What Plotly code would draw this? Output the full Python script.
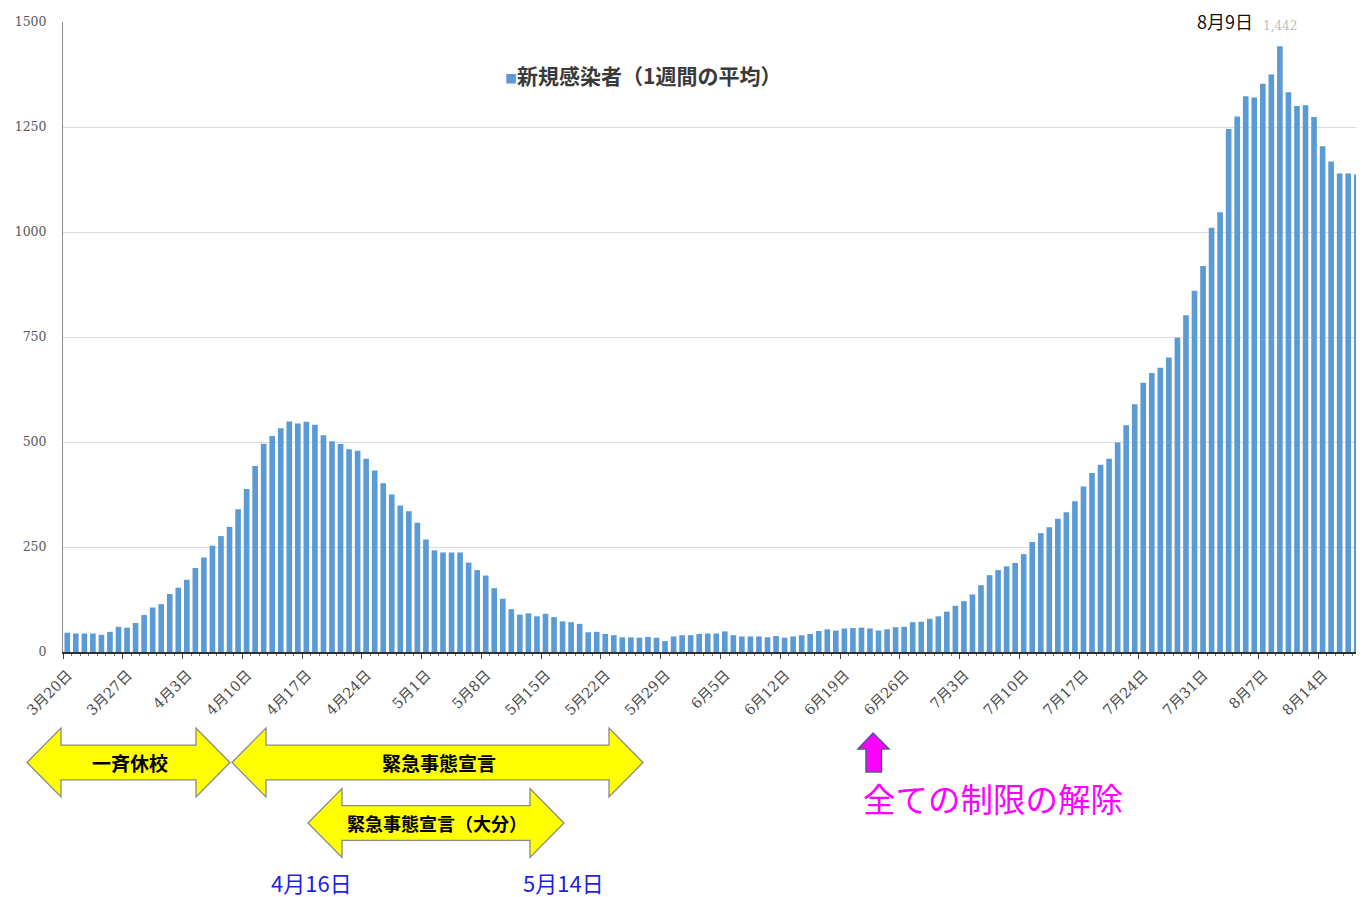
import datetime as dt
import plotly.graph_objects as go

# ---------------- data ----------------
start_date = dt.date(2020, 3, 20)
n_days = 153
categories = []
for d in range(n_days):
    day = start_date + dt.timedelta(days=d)
    categories.append(f"{day.month}月{day.day}日")

# 7-day average of new infections
weekly_avg = [
    46, 44, 44, 44, 41, 48, 60, 58, 69, 88, 106, 114, 138, 153, 172, 200, 225, 253, 276, 298,
    340, 388, 443, 496, 514, 533, 549, 544, 548, 541, 516, 502, 495, 483, 479, 460, 432, 402,
    375, 349, 335, 308, 268, 242, 237, 237, 237,
    213, 195, 182, 152, 127, 102, 89, 92, 85, 91, 83, 73, 71, 67, 47, 48, 43, 40, 35, 35, 34,
    36, 34, 26, 37, 40, 40, 43, 44, 44, 49, 40, 37, 37, 37, 35, 38, 34, 37, 40, 43, 50, 54,
    51, 56, 57, 58, 56, 51, 54, 59,
    60, 71, 72, 79, 85, 96, 110, 121, 137, 159, 183, 195, 204, 212, 233, 262, 283, 297, 317,
    333, 359, 394, 426, 446, 460, 499, 540, 590,
    641, 664, 677, 701, 748, 802,
    860, 919, 1010, 1047, 1245, 1275, 1323, 1320, 1353, 1375, 1442, 1333, 1300, 1302, 1274,
    1204, 1168, 1139, 1139, 1137, 1110,
]

tick_labels = ["3月20日", "3月27日", "4月3日", "4月10日", "4月17日", "4月24日", "5月1日",
               "5月8日", "5月15日", "5月22日", "5月29日", "6月5日", "6月12日", "6月19日",
               "6月26日", "7月3日", "7月10日", "7月17日", "7月24日", "7月31日", "8月7日",
               "8月14日"]
y_ticks = [0, 250, 500, 750, 1000, 1250, 1500]

series_name = "新規感染者（1週間の平均）"
peak_label = "8月9日"

# ---------------- layout geometry (screen pixels; page body has an 8px margin) ----------------
OFF = 8
W, H = 1364 - OFF, 897 - OFF
L, R, T, B = 63, 1364, 22, 652          # plot area in screen pixels
PW, PH = R - L, B - T


def px(x):
    return (x - L) / PW


def py(y):
    return (B - y) / PH


x_idx = list(range(len(weekly_avg)))
peak_i = max(x_idx, key=lambda i: weekly_avg[i])
tick_pos = [categories.index(t) - 0.5 for t in tick_labels]

fig = go.Figure()
fig.add_trace(go.Bar(
    x=x_idx, y=weekly_avg, name=series_name,
    marker=dict(color="#5b9bd5", line=dict(width=0)),
    hovertext=categories, hoverinfo="text+y",
    showlegend=False,
))

serif = "DejaVu Serif, Liberation Serif, Noto Sans CJK JP, serif"
sans = "Noto Sans CJK JP, Noto Sans, sans-serif"

fig.update_layout(
    width=W, height=H,
    margin=dict(l=L - OFF, r=0, t=T - OFF, b=H - (B - OFF), pad=0),
    paper_bgcolor="white", plot_bgcolor="white",
    bargap=0.34,
    xaxis=dict(
        range=[-0.5, 151.85], automargin=False,
        tickmode="array", tickvals=tick_pos, ticktext=tick_labels,
        tickangle=-45, ticks="outside", ticklen=5, tickcolor="#404040", tickwidth=1,
        ticklabelshift=5, ticklabelstandoff=2,
        tickfont=dict(family=serif, size=14.5, color="#4a4a4a"),
        minor=dict(tickmode="linear", tick0=-0.5, dtick=1, ticks="outside",
                   ticklen=2, tickcolor="#707070", showgrid=False),
        showline=True, linecolor="#303030", linewidth=2,
        showgrid=False, zeroline=False, fixedrange=True,
    ),
    yaxis=dict(
        range=[0, 1500], automargin=False,
        tickmode="array", tickvals=y_ticks, ticktext=[str(v) for v in y_ticks],
        ticks="", ticklabelstandoff=13,
        tickfont=dict(family=serif, size=12.5, color="#595959"),
        showline=True, linecolor="#8c8c8c", linewidth=1,
        showgrid=True, gridcolor="#dcdcdc", gridwidth=1,
        zeroline=False, fixedrange=True,
    ),
)

# legend-like label
fig.add_annotation(
    xref="paper", yref="paper", x=px(503), y=py(75), xanchor="left", yanchor="middle",
    text=f"<span style='color:#5b9bd5;font-size:12px'>■</span>{series_name}",
    showarrow=False, font=dict(family=sans, size=21, color="#3a3a3a", weight="bold"),
)

# peak labels
fig.add_annotation(
    x=peak_i, y=weekly_avg[peak_i], xref="x", yref="y", yanchor="bottom", yshift=11,
    text=f"{weekly_avg[peak_i]:,}", showarrow=False,
    font=dict(family=serif, size=12, color="#bdbdbd"),
)
fig.add_annotation(
    x=peak_i, y=weekly_avg[peak_i], xref="x", yref="y", yanchor="bottom", yshift=10,
    xshift=-55, text=peak_label, showarrow=False,
    font=dict(family=sans, size=18, color="#111111"),
)


# ---------------- bottom decorations ----------------
def double_arrow(x0, x1, cy, half_h, half_shaft, head):
    pts = [(x0, cy), (x0 + head, cy - half_h), (x0 + head, cy - half_shaft),
           (x1 - head, cy - half_shaft), (x1 - head, cy - half_h), (x1, cy),
           (x1 - head, cy + half_h), (x1 - head, cy + half_shaft),
           (x0 + head, cy + half_shaft), (x0 + head, cy + half_h)]
    return "M " + " L ".join(f"{px(a):.5f},{py(b):.5f}" for a, b in pts) + " Z"


arrows = [
    (27, 230, 762.5, 34.5, 17.3, 34),
    (232, 643, 762.5, 34.5, 17.3, 34),
    (308, 564, 823.0, 34.5, 17.3, 34),
]
for a in arrows:
    fig.add_shape(type="path", xref="paper", yref="paper", path=double_arrow(*a),
                  fillcolor="#ffff00", line=dict(color="#8a8a8a", width=1.3), layer="above")

# up arrow (magenta)
up_pts = [(873, 733), (889, 749), (881.5, 749), (881.5, 772), (866, 772), (866, 749), (858, 749)]
fig.add_shape(type="path", xref="paper", yref="paper",
              path="M " + " L ".join(f"{px(a):.5f},{py(b):.5f}" for a, b in up_pts) + " Z",
              fillcolor="#ff00ff", line=dict(color="#4f5a8c", width=1.5), layer="above")

texts = [
    ("一斉休校", 130, 762, 19, "#000000", "bold"),
    ("緊急事態宣言", 439, 762, 19, "#000000", "bold"),
    ("緊急事態宣言（大分）", 437, 823, 18, "#000000", "bold"),
    ("4月16日", 311, 882, 22, "#1f1fe8", "normal"),
    ("5月14日", 563, 882, 22, "#1f1fe8", "normal"),
    ("全ての制限の解除", 993, 797, 32.5, "#ff00ff", "normal"),
]
for t, x, y, s, c, w in texts:
    fig.add_annotation(xref="paper", yref="paper", x=px(x), y=py(y),
                       xanchor="center", yanchor="middle", text=t, showarrow=False,
                       font=dict(family=sans, size=s, color=c, weight=w))

fig.write_html("out.html")
